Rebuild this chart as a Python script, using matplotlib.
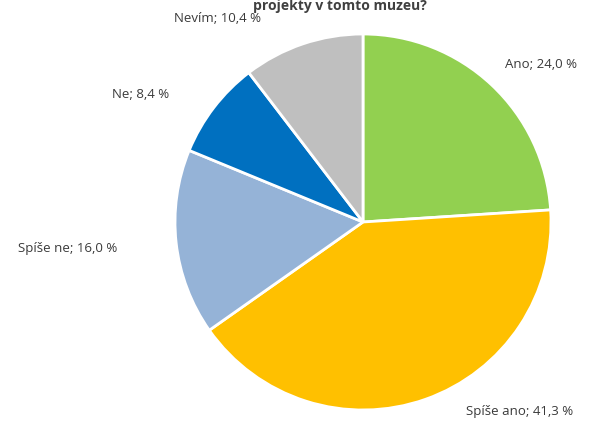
import matplotlib.pyplot as plt

# Data
labels = ['Ano', 'Spíše ano', 'Spíše ne', 'Ne', 'Nevím']
values = [24.0, 41.3, 16.0, 8.4, 10.4]
colors = ['#92D050', '#FFC000', '#95B3D7', '#0070C0', '#BFBFBF']

# label anchor positions in pixels (x, y from top)
label_pos = [(541, 64), (520, 411), (68, 249), (141, 95), (218, 18)]

W, H = 609, 441
fig = plt.figure(figsize=(W / 100, H / 100), dpi=100)

cx, cy, r = 363, 222, 188
ax = fig.add_axes([(cx - r) / W, (H - cy - r) / H, 2 * r / W, 2 * r / H])
ax.pie(values, colors=colors, startangle=90, counterclock=False,
       wedgeprops=dict(edgecolor='white', linewidth=2))
ax.set_aspect('equal')
ax.set_xlim(-1, 1)
ax.set_ylim(-1, 1)
ax.axis('off')

for lab, val, (x, y) in zip(labels, values, label_pos):
    txt = f'{lab}; {val:.1f} %'.replace('.', ',')
    fig.text(x / W, 1 - y / H, txt, ha='center', va='center',
             fontsize=9.5, color='#3a3a3a', family='Open Sans')

# title (mostly cut off at the top in the original)
fig.text(340 / W, 1 - 6 / H, 'projekty v tomto muzeu?', ha='center', va='center',
         fontsize=10, fontweight='bold', color='#404040', family='Open Sans')

fig.savefig('out.png', dpi=100)
